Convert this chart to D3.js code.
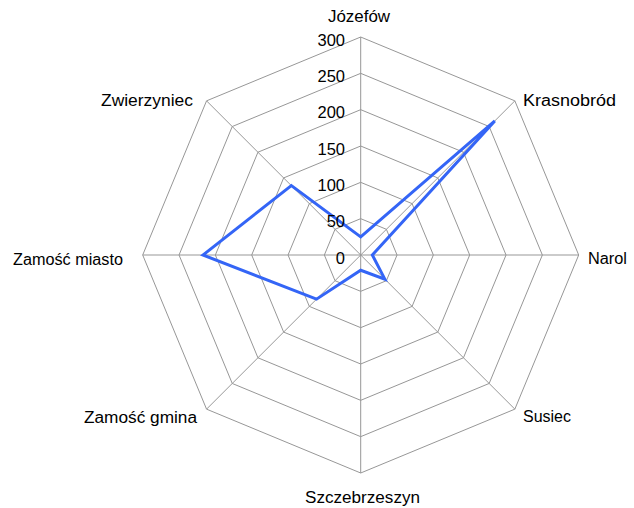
<!DOCTYPE html>
<html><head><meta charset="utf-8">
<script src="https://cdn.jsdelivr.net/npm/d3@7"></script>
<style>body{margin:0;background:#fff}svg{display:block}</style>
</head><body>
<script>
const categories = ["Józefów","Krasnobród","Narol","Susiec","Szczebrzeszyn","Zamość gmina","Zamość miasto","Zwierzyniec"];
const values = [25, 261, 16, 47, 21, 86, 217, 135];
const ticks = [0, 50, 100, 150, 200, 250, 300];

const W = 634, H = 508, cx = 360.7, cy = 255, R = 218;
const svg = d3.select("body").append("svg").attr("width", W).attr("height", H);
const r = d3.scaleLinear().domain([0, 300]).range([0, R]);
const ang = d3.scaleLinear().domain([0, categories.length]).range([0, 2 * Math.PI]);
const pt = (i, v) => [cx + r(v) * Math.sin(ang(i)), cy - r(v) * Math.cos(ang(i))];

const g = svg.append("g");
// grid octagons
ticks.filter(t => t > 0).forEach(t => {
  g.append("polygon")
    .attr("points", categories.map((c, i) => pt(i, t).join(",")).join(" "))
    .attr("fill", "none").attr("stroke", "#979797").attr("stroke-width", 1);
});
// spokes
categories.forEach((c, i) => {
  const [x, y] = pt(i, 300);
  g.append("line").attr("x1", cx).attr("y1", cy).attr("x2", x).attr("y2", y)
    .attr("stroke", "#979797").attr("stroke-width", 1);
});

// data
const line = d3.lineRadial().angle((d, i) => ang(i)).radius(d => r(d)).curve(d3.curveLinearClosed);
svg.append("path").attr("transform", `translate(${cx},${cy})`)
  .attr("d", line(values)).attr("fill", "none")
  .attr("stroke", "#3465f6").attr("stroke-width", 3).attr("stroke-linejoin", "miter");

// tick labels
svg.selectAll(".tick").data(ticks).enter().append("text")
  .attr("x", 345).attr("y", d => cy - r(d) + 8.5)
  .attr("text-anchor", "end").attr("font-family", "Liberation Sans, Arial, sans-serif")
  .attr("font-size", 16.5).attr("fill", "#000").text(d => d);

// category labels
const labelPos = [
  {x: 359, y: 22, a: "middle", w: 62},
  {x: 523, y: 106, a: "start", w: 93},
  {x: 588, y: 264, a: "start", w: 39},
  {x: 523, y: 422, a: "start", w: 48},
  {x: 362.5, y: 503, a: "middle", w: 115},
  {x: 197, y: 423, a: "end", w: 113},
  {x: 123, y: 265, a: "end", w: 110},
  {x: 193, y: 106, a: "end", w: 92}
];
categories.forEach((c, i) => {
  const p = labelPos[i];
  svg.append("text").attr("x", p.x).attr("y", p.y).attr("text-anchor", p.a)
    .attr("font-family", "Liberation Sans, Arial, sans-serif").attr("font-size", 16)
    .attr("textLength", p.w).attr("lengthAdjust", "spacingAndGlyphs")
    .attr("fill", "#000").text(c);
});
</script>
</body></html>
